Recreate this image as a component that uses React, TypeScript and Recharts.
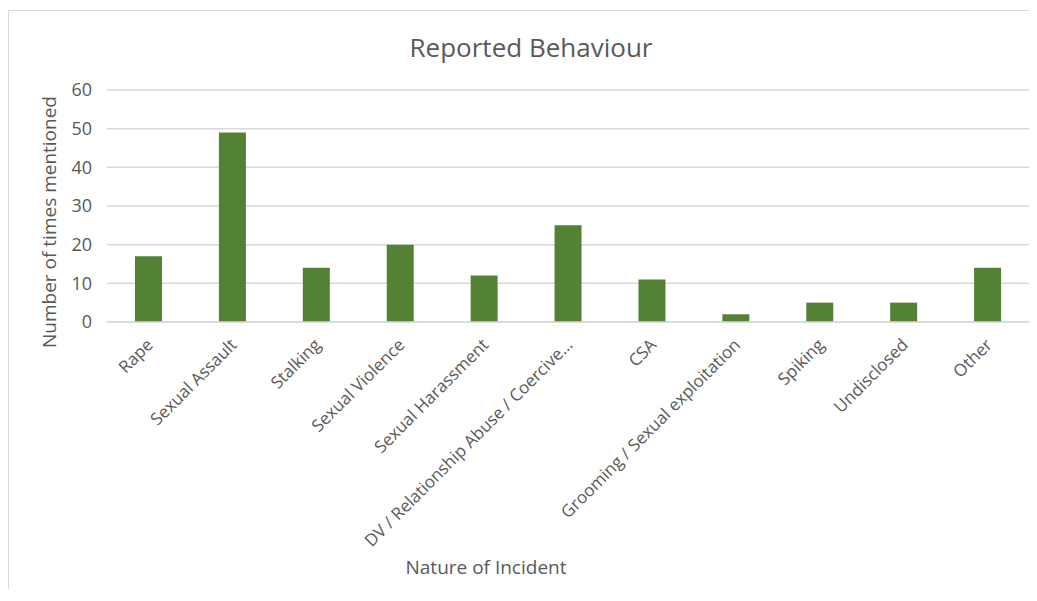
import React from "react";
import { BarChart, Bar, XAxis, YAxis, CartesianGrid, Label } from "recharts";

// Incident categories and how many times each was mentioned
const categories = [
  "Rape",
  "Sexual Assault",
  "Stalking",
  "Sexual Violence",
  "Sexual Harassment",
  "DV / Relationship Abuse / Coercive…",
  "CSA",
  "Grooming / Sexual exploitation",
  "Spiking",
  "Undisclosed",
  "Other",
];
const mentions = [17, 49, 14, 20, 12, 25, 11, 2, 5, 5, 14];
const yTicks = [0, 10, 20, 30, 40, 50, 60];

const data = categories.map((name, i) => ({ name, value: mentions[i] }));

const FONT = "'Open Sans', 'Noto Sans', sans-serif";
const TEXT = "#595959";
const GRID = "#d9d9d9";

const RotatedTick = (props: any) => {
  const { x, y, payload } = props;
  return (
    <g transform={`translate(${x + 5},${y + 16})`}>
      <text
        x={0}
        y={0}
        textAnchor="end"
        fill={TEXT}
        fontSize={17}
        fontFamily={FONT}
        transform="rotate(-45)"
      >
        {payload.value}
      </text>
    </g>
  );
};

export default function App() {
  return (
    <div
      style={{
        marginTop: 2,
        marginBottom: -10,
        width: 1029,
        height: 588,
        borderTop: `1px solid ${GRID}`,
        borderLeft: `1px solid ${GRID}`,
        borderRight: `1px solid ${GRID}`,
        background: "#fff",
        position: "relative",
        fontFamily: FONT,
      }}
    >
      <BarChart
        width={1027}
        height={588}
        data={data}
        margin={{ top: 79, right: 6, bottom: 0, left: 0 }}
        barSize={27}
      >
        <CartesianGrid vertical={false} stroke={GRID} strokeWidth={1.5} />
        <XAxis
          dataKey="name"
          height={277}
          interval={0}
          tick={<RotatedTick />}
          tickLine={false}
          axisLine={{ stroke: GRID, strokeWidth: 1.5 }}
        >
          <Label
            content={() => (
              <text
                x={477}
                y={563}
                textAnchor="middle"
                fill={TEXT}
                fontSize={19}
                fontFamily={FONT}
              >
                Nature of Incident
              </text>
            )}
          />
        </XAxis>
        <YAxis
          width={98}
          domain={[0, 60]}
          ticks={yTicks}
          tickLine={false}
          axisLine={false}
          tick={{ fill: TEXT, fontSize: 18, fontFamily: FONT }}
          tickMargin={9}
        >
          <Label
            content={() => (
              <g>
                <text
                  x={522}
                  y={46}
                  textAnchor="middle"
                  fill={TEXT}
                  fontSize={26}
                  fontFamily={FONT}
                >
                  Reported Behaviour
                </text>
                <text
                  x={0}
                  y={0}
                  transform="translate(47,211) rotate(-90)"
                  textAnchor="middle"
                  fill={TEXT}
                  fontSize={19}
                  fontFamily={FONT}
                >
                  Number of times mentioned
                </text>
              </g>
            )}
          />
        </YAxis>
        <Bar dataKey="value" fill="#548235" isAnimationActive={false} />
      </BarChart>
    </div>
  );
}
